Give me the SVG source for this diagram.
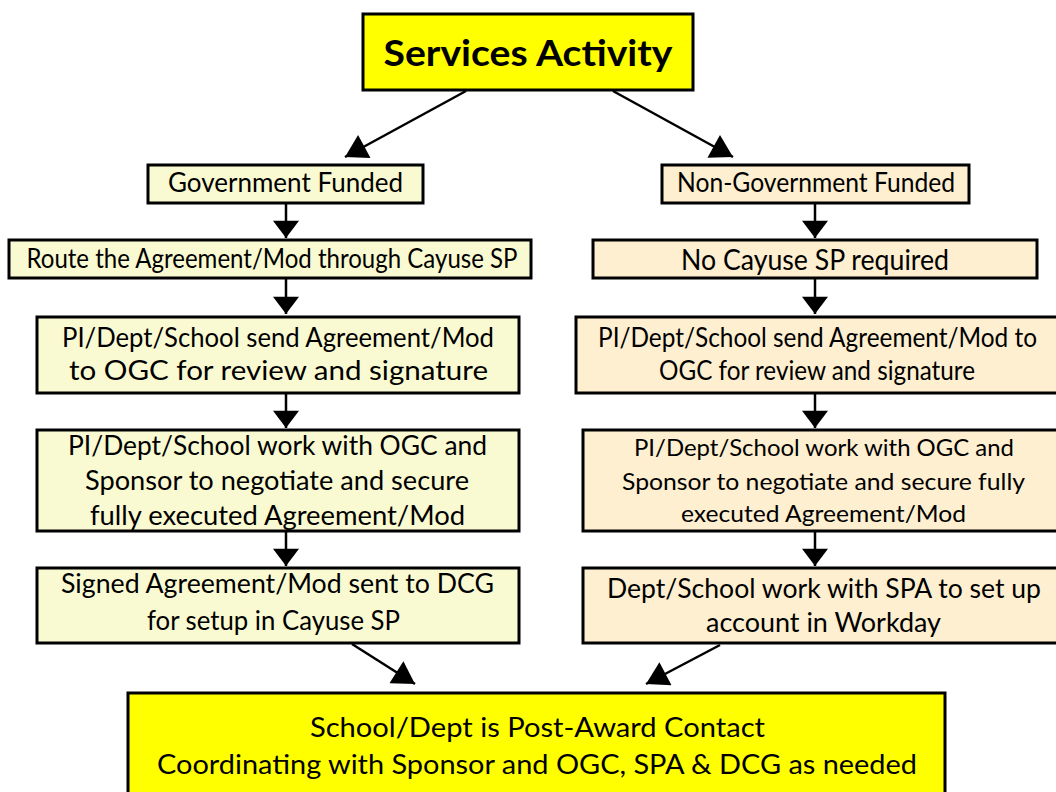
<svg xmlns="http://www.w3.org/2000/svg" width="1056" height="792" viewBox="0 0 1056 792">
  <defs>
    <style>
      .box { stroke: #000; stroke-width: 3; }
      .head { fill: #FFFF00; }
      .gov { fill: #FAFAD2; }
      .ngov { fill: #FDEFCF; }
      .t { font-family: Lato, "Liberation Sans", sans-serif; font-size: 26px; fill: #000; text-anchor: middle; }
      .tb { font-family: Lato, "Liberation Sans", sans-serif; font-size: 37px; font-weight: bold; fill: #000; text-anchor: middle; }
      .edge { stroke: #000; stroke-width: 2.5; fill: none; marker-end: url(#arrow); }
      .slant { stroke: #000; stroke-width: 2.5; fill: none; marker-end: url(#arrow-lg); }
    </style>
    <marker id="arrow" markerUnits="userSpaceOnUse" markerWidth="26" markerHeight="26" viewBox="0 0 16 24" refX="16" refY="12" orient="auto">
      <path d="M0,0 L16,12 L0,24 Z" fill="#000"/>
    </marker>
    <marker id="arrow-lg" markerUnits="userSpaceOnUse" markerWidth="26" markerHeight="26" viewBox="0 0 22 26" refX="22" refY="13" orient="auto">
      <path d="M0,0 L22,13 L0,26 Z" fill="#000"/>
    </marker>
  </defs>

  <rect width="1056" height="792" fill="#FFFFFF"/>

  <!-- connectors -->
  <g id="connectors">
    <line class="slant" x1="466" y1="91" x2="345" y2="157"/>
    <line class="slant" x1="613" y1="91" x2="733" y2="157"/>
    <line class="edge" x1="286" y1="204" x2="286" y2="238"/>
    <line class="edge" x1="286" y1="279" x2="286" y2="314"/>
    <line class="edge" x1="286" y1="394" x2="286" y2="428"/>
    <line class="edge" x1="286" y1="532" x2="286" y2="566"/>
    <line class="edge" x1="815" y1="204" x2="815" y2="238"/>
    <line class="edge" x1="815" y1="279" x2="815" y2="314"/>
    <line class="edge" x1="815" y1="394" x2="815" y2="428"/>
    <line class="edge" x1="815" y1="532" x2="815" y2="566"/>
    <line class="slant" x1="352" y1="644" x2="415" y2="684"/>
    <line class="slant" x1="720" y1="645" x2="646" y2="684"/>
  </g>

  <g id="services-activity">
    <rect class="box head" x="363" y="14" width="330" height="76"/>
    <text class="tb" x="528" y="66" textLength="289" lengthAdjust="spacingAndGlyphs">Services Activity</text>
  </g>

  <!-- government funded branch -->
  <g id="gov-funded">
    <rect class="box gov" x="148" y="165" width="275" height="38"/>
    <text class="t" x="285.5" y="192" textLength="235" lengthAdjust="spacingAndGlyphs">Government Funded</text>
  </g>
  <g id="gov-route">
    <rect class="box gov" x="9" y="240" width="522" height="38"/>
    <text class="t" x="272" y="268" textLength="491" lengthAdjust="spacingAndGlyphs">Route the Agreement/Mod through Cayuse SP</text>
  </g>
  <g id="gov-send">
    <rect class="box gov" x="37" y="317" width="482" height="76"/>
    <text class="t" x="278" y="347" textLength="432" lengthAdjust="spacingAndGlyphs">PI/Dept/School send Agreement/Mod</text>
    <text class="t" x="278.5" y="380" textLength="419" lengthAdjust="spacingAndGlyphs">to OGC for review and signature</text>
  </g>
  <g id="gov-negotiate">
    <rect class="box gov" x="37" y="430" width="482" height="101"/>
    <text class="t" x="277.5" y="455" textLength="419" lengthAdjust="spacingAndGlyphs">PI/Dept/School work with OGC and</text>
    <text class="t" x="277" y="490" textLength="384" lengthAdjust="spacingAndGlyphs">Sponsor to negotiate and secure</text>
    <text class="t" x="277.5" y="525" textLength="375" lengthAdjust="spacingAndGlyphs">fully executed Agreement/Mod</text>
  </g>
  <g id="gov-setup">
    <rect class="box gov" x="37" y="568" width="482" height="75"/>
    <text class="t" x="277.5" y="593" textLength="433" lengthAdjust="spacingAndGlyphs">Signed Agreement/Mod sent to DCG</text>
    <text class="t" x="273.5" y="630" textLength="253" lengthAdjust="spacingAndGlyphs">for setup in Cayuse SP</text>
  </g>

  <!-- non-government funded branch -->
  <g id="nongov-funded">
    <rect class="box ngov" x="662" y="165" width="307" height="38"/>
    <text class="t" x="816" y="192" textLength="278" lengthAdjust="spacingAndGlyphs">Non-Government Funded</text>
  </g>
  <g id="nongov-no-cayuse">
    <rect class="box ngov" x="593" y="240" width="444" height="38"/>
    <text class="t" x="815" y="270" style="font-size:29px" textLength="268" lengthAdjust="spacingAndGlyphs">No Cayuse SP required</text>
  </g>
  <g id="nongov-send">
    <rect class="box ngov" x="576" y="317" width="490" height="76"/>
    <text class="t" x="817.5" y="347" textLength="439" lengthAdjust="spacingAndGlyphs">PI/Dept/School send Agreement/Mod to</text>
    <text class="t" x="817" y="380" textLength="316" lengthAdjust="spacingAndGlyphs">OGC for review and signature</text>
  </g>
  <g id="nongov-negotiate">
    <rect class="box ngov" x="583" y="430" width="483" height="101"/>
    <text class="t" x="824" y="456" style="font-size:24px" textLength="380" lengthAdjust="spacingAndGlyphs">PI/Dept/School work with OGC and</text>
    <text class="t" x="823.5" y="490" style="font-size:24px" textLength="403" lengthAdjust="spacingAndGlyphs">Sponsor to negotiate and secure fully</text>
    <text class="t" x="823.5" y="522" style="font-size:24px" textLength="285" lengthAdjust="spacingAndGlyphs">executed Agreement/Mod</text>
  </g>
  <g id="nongov-workday">
    <rect class="box ngov" x="583" y="568" width="483" height="75"/>
    <text class="t" x="824" y="598" textLength="434" lengthAdjust="spacingAndGlyphs">Dept/School work with SPA to set up</text>
    <text class="t" x="823.5" y="632" textLength="235" lengthAdjust="spacingAndGlyphs">account in Workday</text>
  </g>

  <g id="post-award">
    <rect class="box head" x="128" y="693" width="817" height="110"/>
    <text class="t" x="537.5" y="737" style="font-size:27px" textLength="455" lengthAdjust="spacingAndGlyphs">School/Dept is Post-Award Contact</text>
    <text class="t" x="537" y="774" style="font-size:27px" textLength="760" lengthAdjust="spacingAndGlyphs">Coordinating with Sponsor and OGC, SPA &amp; DCG as needed</text>
  </g>
</svg>
